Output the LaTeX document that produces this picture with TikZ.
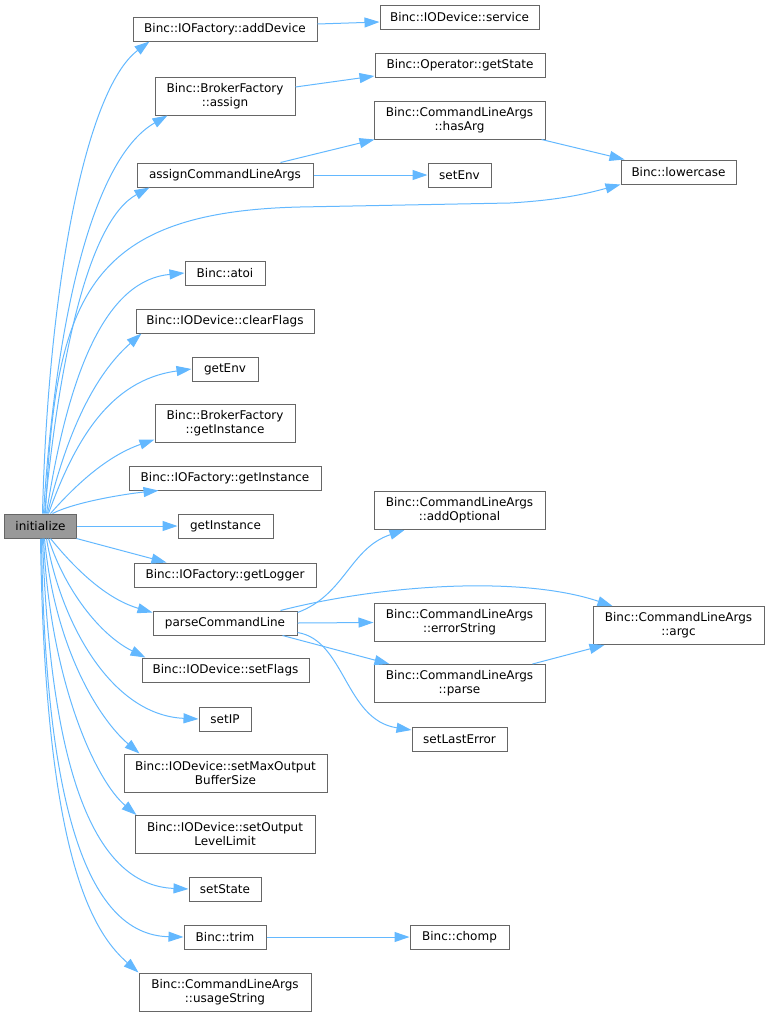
\documentclass[tikz,border=0pt]{standalone}
\usepackage{fontspec}
\setmainfont{DejaVu Sans}
\usetikzlibrary{arrows.meta}
\definecolor{edgec}{HTML}{63B8FF}
\definecolor{boxc}{HTML}{666666}
\definecolor{initc}{HTML}{999999}
\tikzset{
  fn/.style={draw=boxc, line width=1bp, fill=white, inner sep=0pt, align=center,
    font=\fontsize{12bp}{14bp}\selectfont, text=black},
  bw/.style={minimum width=#1bp},
  bh/.style={minimum height=#1bp},
  one/.style={bh=24},
  two/.style={bh=38},
  call/.style={draw=edgec, line width=1bp, -{Triangle[length=15bp,width=10bp]}},
}
\begin{document}
\begin{tikzpicture}[x=1bp,y=-1bp]
\useasboundingbox (0,0) rectangle (769,1016);
% nodes
\node[fn, one, bw=71, fill=initc] (init) at (40.5,526) {initialize};
\node[fn, one, bw=184] (addDevice) at (225,29) {Binc::IOFactory::addDevice};
\node[fn, one, bw=159] (service) at (459.5,17) {Binc::IODevice::service};
\node[fn, two, bw=140] (bfassign) at (225,96) {Binc::BrokerFactory\\::assign};
\node[fn, one, bw=170] (getState) at (460,65) {Binc::Operator::getState};
\node[fn, two, bw=171] (hasArg) at (459.5,120) {Binc::CommandLineArgs\\::hasArg};
\node[fn, one, bw=176] (assignCLA) at (225,175) {assignCommandLineArgs};
\node[fn, one, bw=63] (setEnv) at (459.5,175) {setEnv};
\node[fn, one, bw=115] (lowercase) at (678.5,172) {Binc::lowercase};
\node[fn, one, bw=80] (atoi) at (225,273) {Binc::atoi};
\node[fn, one, bw=178] (clearFlags) at (225,321) {Binc::IODevice::clearFlags};
\node[fn, one, bw=66] (getEnv) at (225,369) {getEnv};
\node[fn, two, bw=140] (bfGetInstance) at (225,423) {Binc::BrokerFactory\\::getInstance};
\node[fn, one, bw=192] (iofGetInstance) at (225,478) {Binc::IOFactory::getInstance};
\node[fn, one, bw=95] (getInstance) at (225.5,526) {getInstance};
\node[fn, one, bw=182] (getLogger) at (225,575) {Binc::IOFactory::getLogger};
\node[fn, one, bw=144] (parseCL) at (225,623) {parseCommandLine};
\node[fn, one, bw=167] (setFlags) at (225.5,670) {Binc::IODevice::setFlags};
\node[fn, one, bw=52] (setIP) at (225,719) {setIP};
\node[fn, two, bw=203] (setMaxOBS) at (225.5,773) {Binc::IODevice::setMaxOutput\\BufferSize};
\node[fn, two, bw=180] (setOLL) at (225,834.5) {Binc::IODevice::setOutput\\LevelLimit};
\node[fn, one, bw=72] (setState) at (225,889) {setState};
\node[fn, one, bw=82] (trim) at (225,937) {Binc::trim};
\node[fn, one, bw=99] (chomp) at (459.5,937) {Binc::chomp};
\node[fn, two, bw=172] (usageString) at (225,992) {Binc::CommandLineArgs\\::usageString};
\node[fn, two, bw=171] (addOptional) at (459.5,510.5) {Binc::CommandLineArgs\\::addOptional};
\node[fn, two, bw=171] (errorString) at (459.5,622.5) {Binc::CommandLineArgs\\::errorString};
\node[fn, two, bw=171] (parse) at (459.5,683.5) {Binc::CommandLineArgs\\::parse};
\node[fn, one, bw=95] (setLastError) at (459.5,739) {setLastError};
\node[fn, two, bw=171] (argc) at (678.5,625.5) {Binc::CommandLineArgs\\::argc};
% edges from initialize
\draw[call] ([xshift=2bp]init.north) .. controls (48,290) and (85,90) .. ([xshift=17bp]addDevice.south west);
\draw[call] ([xshift=3bp]init.north) .. controls (55,330) and (90,160) .. ([xshift=13bp]bfassign.south west);
\draw[call] ([xshift=4bp]init.north) .. controls (60,350) and (90,220) .. ([xshift=13bp]assignCLA.south west);
\draw[call] ([xshift=5bp]init.north) .. controls (55,300) and (85,212) .. (300,207) -- (510,203) .. controls (560,200) and (585,194) .. (lowercase.south west);
\draw[call] ([xshift=6bp]init.north) .. controls (70,360) and (110,280) .. (atoi.west);
\draw[call] ([xshift=7bp]init.north) .. controls (70,420) and (100,370) .. ([xshift=6bp]clearFlags.south west);
\draw[call] ([xshift=8bp]init.north) .. controls (75,440) and (110,380) .. (getEnv.west);
\draw[call] ([xshift=10bp]init.north) .. controls (80,480) and (110,455) .. ([yshift=3bp]bfGetInstance.south west);
\draw[call] ([xshift=12bp]init.north) .. controls (75,502) and (125,494) .. ([xshift=30bp]iofGetInstance.south west);
\draw[call] (init.east) -- (getInstance.west);
\draw[call] (init.south east) -- ([xshift=33bp]getLogger.north west);
\draw[call] ([xshift=10bp]init.south) .. controls (80,575) and (110,600) .. ([yshift=-2bp]parseCL.north west);
\draw[call] ([xshift=8bp]init.south) .. controls (65,590) and (100,635) .. ([xshift=4bp]setFlags.north west);
\draw[call] ([xshift=6bp]init.south) .. controls (60,620) and (110,715) .. (setIP.west);
\draw[call] ([xshift=4bp]init.south) .. controls (55,650) and (100,720) .. ([xshift=16bp]setMaxOBS.north west);
\draw[call] ([xshift=3bp]init.south) .. controls (50,680) and (95,780) .. ([xshift=2bp]setOLL.north west);
\draw[call] ([xshift=2bp]init.south) .. controls (50,760) and (90,885) .. (setState.west);
\draw[call] ([xshift=1bp]init.south) .. controls (45,800) and (85,935) .. (trim.west);
\draw[call] (init.south) .. controls (45,850) and (90,930) .. (usageString.north west);
% other edges
\draw[call] ([yshift=5bp]addDevice.east) -- ([yshift=-5bp]service.west);
\draw[call] ([yshift=9bp]bfassign.east) -- ([yshift=-11bp]getState.west);
\draw[call] ([xshift=-33bp]assignCLA.north east) -- ([xshift=1bp]hasArg.south west);
\draw[call] (assignCLA.east) -- (setEnv.west);
\draw[call] ([xshift=-4bp]hasArg.south east) -- ([xshift=4bp]lowercase.north west);
\draw[call] (trim.east) -- (chomp.west);
\draw[call] (parseCL.east) -- (errorString.west);
\draw[call] ([xshift=-15bp]parseCL.south east) -- ([xshift=16bp]parse.north west);
\draw[call] ([xshift=-13bp]parse.north east) -- ([xshift=12bp]argc.south west);
\draw[call] ([yshift=-2bp]parseCL.north east) .. controls (345,595) and (350,548) .. ([xshift=31bp]addOptional.south west);
\draw[call] ([xshift=-17bp]parseCL.north east) .. controls (380,585) and (520,575) .. ([xshift=20bp]argc.north west);
\draw[call] ([yshift=3bp]parseCL.south east) .. controls (345,640) and (345,720) .. ([yshift=9bp]setLastError.west);
\end{tikzpicture}
\end{document}
